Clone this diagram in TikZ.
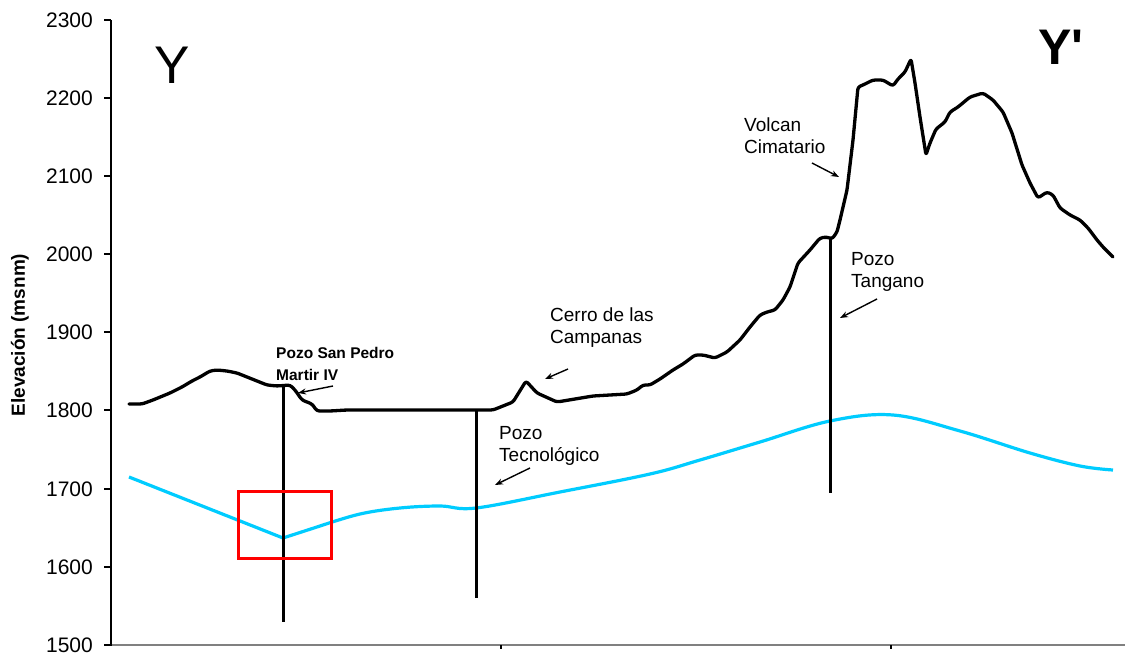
\documentclass[tikz,border=0pt]{standalone}
\usepackage{fontspec}
\setmainfont{Liberation Sans}
\usetikzlibrary{arrows.meta}
\definecolor{watercol}{HTML}{00CCFF}
\definecolor{axisgray}{HTML}{808080}
\begin{document}
\begin{tikzpicture}[x=1pt,y=-1pt,
  terrain/.style={line width=3.3pt,line join=round,line cap=round,rounded corners=2.5pt},
  wellline/.style={line width=3pt},
  wtable/.style={watercol,line width=3.2pt,line join=round},
  pointer/.style={line width=1.4pt,-{Stealth[length=8pt,width=6pt]}},
  ticklbl/.style={anchor=east,inner sep=0pt,font=\fontsize{21}{25}\selectfont},
  lbl/.style={anchor=west,align=left,inner sep=0pt,font=\fontsize{19}{22}\selectfont},
  boldlbl/.style={anchor=west,align=left,inner sep=0pt,font=\fontsize{15.5}{22}\selectfont\bfseries}]
\useasboundingbox (0,0) rectangle (1125,653);
\fill[white] (0,0) rectangle (1125,653);
% axes
\draw[axisgray,line width=2pt] (111,645) -- (1125,645);
\foreach \xx in {501,891} \draw[line width=1.2pt] (\xx,645) -- (\xx,648.5);
\draw[line width=1.3pt] (111,20) -- (111,646);
\foreach \yy/\lab in {20/2300,98/2200,176/2100,254/2000,332/1900,410/1800,489/1700,567/1600,645/1500}{
  \draw[line width=1.3pt] (104,\yy) -- (111,\yy);
  \node[ticklbl] at (93,\yy) {\lab};
}
\node[rotate=90,inner sep=0pt,font=\fontsize{19}{22}\selectfont\bfseries] (ytitle) at (20,335) {Elevación (msnm)};
% terrain profile
\draw[terrain] (129,404) -- (142,404) -- (153,400) -- (170,393) -- (182,387) -- (192,381) -- (200,377) -- (210,371) -- (217,370) -- (227,371) -- (237,373) -- (247,377) -- (257,381) -- (267,385) -- (277,386) -- (290,385) -- (295,390) -- (302,400) -- (312,404) -- (317,411) -- (330,411) -- (347,410) -- (370,410) -- (493,410) -- (513,402) -- (526,381) -- (537,393) -- (557,402) -- (593,396) -- (627,394) -- (637,390) -- (643,385) -- (650,385) -- (660,379) -- (673,370) -- (683,364) -- (695,355) -- (703,355) -- (715,358) -- (727,352) -- (740,340) -- (750,327) -- (760,315) -- (767,312) -- (775,310) -- (783,300) -- (790,287) -- (798,263) -- (810,250) -- (820,238) -- (827,237) -- (832,239) -- (837,232) -- (840,220) -- (847,190) -- (853,140) -- (858,87) -- (863,85) -- (873,80) -- (883,80) -- (893,86) -- (898,79) -- (905,72) -- (911,59) -- (915,83) -- (920,117) -- (926,155) -- (930,143) -- (936,129) -- (945,122) -- (950,112) -- (958,107) -- (970,97) -- (983,93) -- (993,100) -- (1003,112) -- (1012,133) -- (1022,165) -- (1030,183) -- (1038,198) -- (1047,192) -- (1053,195) -- (1060,208) -- (1070,215) -- (1080,220) -- (1088,228) -- (1097,240) -- (1103,247) -- (1113,257);
% water table
\draw[wtable] (129,477) -- (283,538) -- (320,526) plot[smooth,tension=0.6] coordinates {(320,526) (360,514) (400,508) (440,506) (476,508) (560,492) (650,474) (700,460) (760,442) (830,421) (893,415) (960,431) (1030,453) (1080,466) (1113,470)};
% wells
\coordinate (sptop) at (283,385);
\coordinate (spbot) at (283,622);
\coordinate (tectop) at (476,410);
\coordinate (tecbot) at (476,598);
\coordinate (tantop) at (830,239);
\coordinate (tanbot) at (830,493);
\draw[wellline] (sptop) -- (spbot);
\draw[wellline] (tectop) -- (tecbot);
\draw[wellline] (tantop) -- (tanbot);
% red box
\draw[red,line width=3pt] (238,491) rectangle (331,558);
% labels
\node[font=\fontsize{53}{60}\selectfont,inner sep=0pt] (ylab) at (172,65) {Y};
\node[font=\fontsize{50}{60}\selectfont\bfseries,inner sep=0pt,anchor=west] (yplab) at (1038,47) {Y\textquotesingle};
\node[boldlbl] (sp) at (276,364) {Pozo San Pedro\\Martir IV};
\node[lbl] (cerro) at (550,328) {Cerro de las\\Campanas};
\node[lbl] (tec) at (499,446) {Pozo\\Tecnológico};
\node[lbl] (volc) at (744,136) {Volcan\\Cimatario};
\node[lbl] (tan) at (851,272) {Pozo\\Tangano};
% pointers
\coordinate (spA) at (333,386); \coordinate (spB) at (298,393);
\coordinate (ceA) at (568,369); \coordinate (ceB) at (545,379);
\coordinate (teA) at (530,468); \coordinate (teB) at (495,485);
\coordinate (voA) at (812,163); \coordinate (voB) at (839,177);
\coordinate (taA) at (877,299); \coordinate (taB) at (840,318);
\draw[pointer] (spA) -- (spB);
\draw[pointer] (ceA) -- (ceB);
\draw[pointer] (teA) -- (teB);
\draw[pointer] (voA) -- (voB);
\draw[pointer] (taA) -- (taB);
\end{tikzpicture}
\end{document}
